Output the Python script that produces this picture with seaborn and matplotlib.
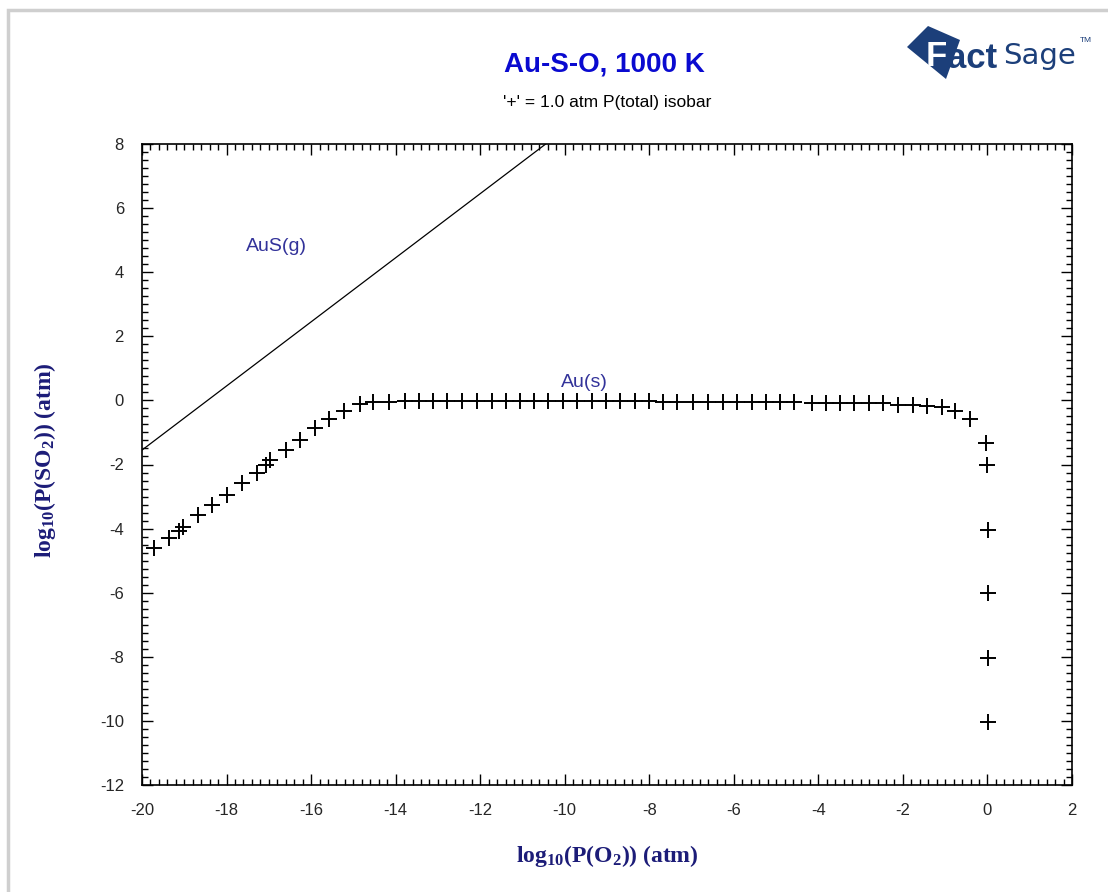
import numpy as np
import pandas as pd
import matplotlib
matplotlib.use("Agg")
import matplotlib.pyplot as plt
from matplotlib.ticker import MultipleLocator
from matplotlib.patches import Polygon, Rectangle
import seaborn as sns

# ---- data ----
iso_x = [-19.72, -19.35, -19.12, -19.02, -18.67, -18.34, -17.98, -17.64, -17.29, -17.07,
         -16.97, -16.60, -16.26, -15.91, -15.58, -15.21, -14.84, -14.53, -14.15, -13.78,
         -13.45, -13.11, -12.78, -12.44, -12.08, -11.73, -11.40, -11.06, -10.73, -10.39,
         -10.05, -9.70, -9.36, -9.03, -8.69, -8.34, -8.00, -7.67, -7.34, -6.96,
         -6.60, -6.25, -5.92, -5.58, -5.24, -4.91, -4.58, -4.16, -3.83, -3.49,
         -3.15, -2.80, -2.46, -2.11, -1.75, -1.44, -1.08, -0.77, -0.41,
         -0.03, 0.00, 0.02, 0.02, 0.02, 0.02]
iso_y = [-4.62, -4.28, -4.07, -3.95, -3.58, -3.26, -2.95, -2.58, -2.25, -2.02,
         -1.86, -1.55, -1.24, -0.87, -0.59, -0.33, -0.11, -0.06, -0.04, -0.03,
         -0.03, -0.03, -0.03, -0.03, -0.03, -0.03, -0.03, -0.03, -0.03, -0.03,
         -0.03, -0.03, -0.03, -0.03, -0.03, -0.03, -0.03, -0.04, -0.04, -0.04,
         -0.04, -0.04, -0.04, -0.04, -0.04, -0.04, -0.04, -0.08, -0.08, -0.08,
         -0.08, -0.09, -0.09, -0.13, -0.14, -0.19, -0.21, -0.34, -0.58,
         -1.32, -2.03, -4.04, -6.02, -8.03, -10.02]

bound_x = [-20.0, -10.45]
bound_y = [-1.55, 8.0]

region_labels = ["AuS(g)", "Au(s)"]
region_x = [-16.83, -9.54]
region_y = [4.79, 0.55]

title = "Au-S-O, 1000 K"
subtitle = "'+' = 1.0 atm P(total) isobar"
xlabel = r"$\mathbf{log_{10}(P(O_2))\ (atm)}$"
ylabel = r"$\mathbf{log_{10}(P(SO_2))\ (atm)}$"

# ---- style ----
sns.set_style("white")
plt.rcParams["font.family"] = ["Liberation Sans", "DejaVu Sans"]
plt.rcParams["axes.unicode_minus"] = False
plt.rcParams["mathtext.fontset"] = "custom"
plt.rcParams["mathtext.rm"] = "Liberation Serif"
plt.rcParams["mathtext.it"] = "Liberation Serif:italic"
plt.rcParams["mathtext.bf"] = "Liberation Serif:bold"

W, H = 1108, 892
fig = plt.figure(figsize=(W / 100, H / 100), dpi=100)
fig.patch.set_facecolor("white")
ax = fig.add_axes([142 / W, 1 - 785 / H, (1072 - 142) / W, (785 - 144) / H])

iso = pd.DataFrame({"x": iso_x, "y": iso_y})
bnd = pd.DataFrame({"x": bound_x, "y": bound_y})

sns.lineplot(data=bnd, x="x", y="y", ax=ax, color="black", linewidth=0.9, sort=False)
sns.scatterplot(data=iso, x="x", y="y", ax=ax, marker="+", color="black",
                s=120, linewidth=1.4, zorder=3)

ax.set_xlim(-20, 2)
ax.set_ylim(-12, 8)
ax.xaxis.set_major_locator(MultipleLocator(2))
ax.xaxis.set_minor_locator(MultipleLocator(0.2))
ax.yaxis.set_major_locator(MultipleLocator(2))
ax.yaxis.set_minor_locator(MultipleLocator(0.25))
ax.tick_params(which="both", direction="in", top=True, right=True, bottom=True, left=True,
               color="black", width=1.0)
ax.tick_params(which="major", length=8, labelsize=12, pad=13)
ax.tick_params(which="minor", length=4)
ax.set_xlabel("")
ax.set_ylabel("")
for s in ax.spines.values():
    s.set_color("black")
    s.set_linewidth(1.2)

for t, x, y in zip(region_labels, region_x, region_y):
    ax.text(x, y, t, color="#33339a", fontsize=14, ha="center", va="center")

# titles and axis labels
fig.text(604 / W, 1 - 65 / H, title, color="#0a0ad0", fontsize=20, fontweight="bold",
         ha="center", va="center")
fig.text(607 / W, 1 - 103 / H, subtitle, color="black", fontsize=12.5,
         ha="center", va="center")
fig.text(607 / W, 1 - 856 / H, xlabel, color="#1c1c78", fontsize=17,
         ha="center", va="center")
fig.text(45 / W, 1 - 460 / H, ylabel, color="#1c1c78", fontsize=17,
         ha="center", va="center", rotation=90)

# figure border (light gray frame)
fig.add_artist(Rectangle((8 / W, -0.01), 1.2, 1 - 10 / H + 0.01, transform=fig.transFigure,
                         fill=False, edgecolor="#cfcfcf", linewidth=2.5))

# FactSage logo (approximation)
poly_px = [(907, 47), (928, 26), (960, 40), (946, 79)]
fig.add_artist(Polygon([(x / W, 1 - y / H) for x, y in poly_px], closed=True,
                       transform=fig.transFigure, facecolor="#1c3f7a", edgecolor="none"))
fig.text(926 / W, 1 - 57 / H, "F", color="white", fontsize=25, fontweight="bold",
         ha="left", va="center", family="Liberation Sans")
fig.text(947 / W, 1 - 58 / H, "act", color="#1c3f7a", fontsize=25, fontweight="bold",
         ha="left", va="center", family="Liberation Sans")
fig.text(1003 / W, 1 - 56 / H, "Sage", color="#1c3f7a", fontsize=21,
         ha="left", va="center", family="Liberation Sans Narrow")
fig.text(1080 / W, 1 - 40 / H, "TM", color="#1c3f7a", fontsize=6,
         ha="left", va="center")

fig.savefig("out.png", dpi=100)
